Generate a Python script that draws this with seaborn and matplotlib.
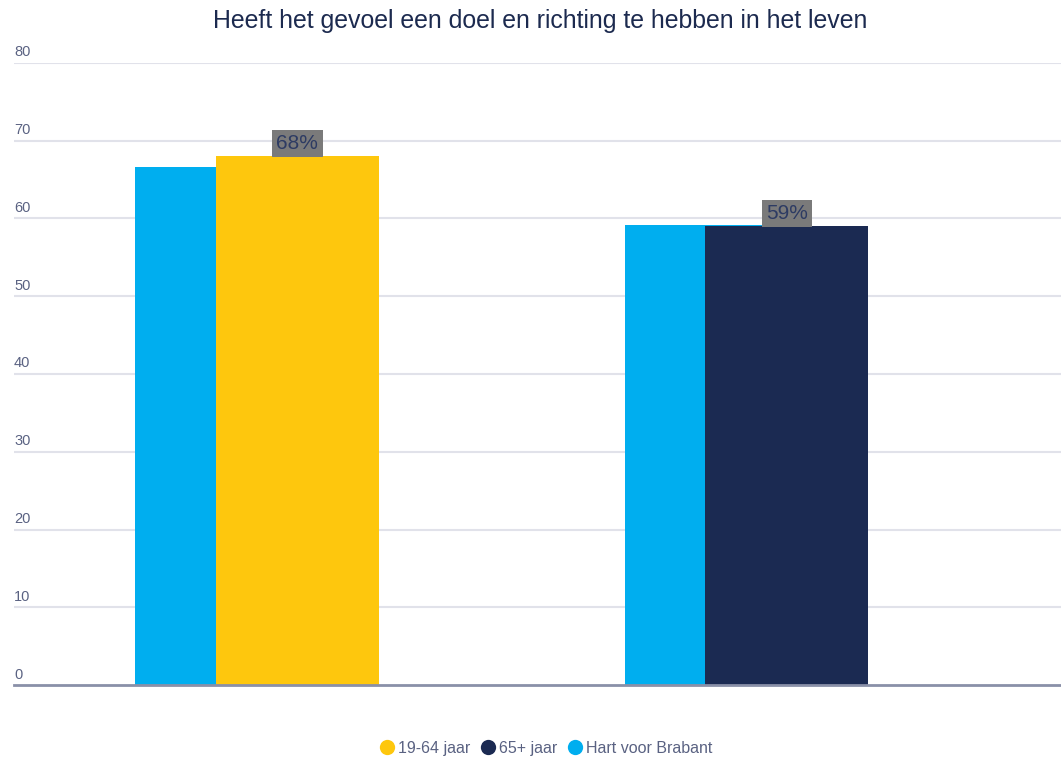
import numpy as np
import pandas as pd
import matplotlib
matplotlib.use('Agg')
import matplotlib.pyplot as plt
from matplotlib.lines import Line2D
import seaborn as sns

# Data
groups = ['19-64 jaar', '65+ jaar']
group_values = [68, 59]
regio_label = 'Hart voor Brabant'
regio_values = [66.6, 59.1]
y_ticks = [0, 10, 20, 30, 40, 50, 60, 70, 80]
title = 'Heeft het gevoel een doel en richting te hebben in het leven'

colors = {'19-64 jaar': '#FEC70D', '65+ jaar': '#1B2A52', regio_label: '#00AEEF'}
text_color = '#5A6282'
title_color = '#1C2A4F'

sns.set_theme(style='white')
plt.rcParams['font.family'] = ['Liberation Sans', 'DejaVu Sans']

fig = plt.figure(figsize=(10.61, 7.58), dpi=100)
ax = fig.add_axes([0.0132, 0.0963, 0.9868, 0.8206])

bar_w = 0.333
offset = 0.165
pos = np.arange(len(groups), dtype=float)

df_regio = pd.DataFrame({'x': pos, 'waarde': regio_values, 'reeks': regio_label})
df_groep = pd.DataFrame({'x': pos + offset, 'waarde': group_values, 'reeks': groups})

sns.barplot(data=df_regio, x='x', y='waarde', hue='reeks', palette=colors,
            native_scale=True, width=bar_w, dodge=False, ax=ax, legend=False,
            saturation=1, linewidth=0, zorder=2)
sns.barplot(data=df_groep, x='x', y='waarde', hue='reeks', palette=colors,
            native_scale=True, width=bar_w, dodge=False, ax=ax, legend=False,
            saturation=1, linewidth=0, zorder=3)

for xv, val in zip(pos + offset, group_values):
    ax.annotate(f'{val}%', xy=(xv, val), xytext=(0, 2.5), textcoords='offset points',
                ha='center', va='bottom', fontsize=15, color='#2D3B63', zorder=5,
                bbox=dict(boxstyle='square,pad=0.2', facecolor='#7A7A7A',
                          edgecolor='none'))

ax.set_xlim(-0.414, 1.725)
ax.set_ylim(0, 80)
ax.set_yticks(y_ticks)
ax.set_yticklabels([])
ax.set_xticks([])
ax.tick_params(length=0)
ax.set_xlabel('')
ax.set_ylabel('')
for t in y_ticks:
    if t > 0:
        ax.axhline(t, color='#E1E2EA', linewidth=1.5, zorder=1)
    ax.text(0.0, t + 0.45, str(t), transform=ax.get_yaxis_transform(),
            ha='left', va='bottom', fontsize=10.5, color=text_color)
for s in ['top', 'right', 'left']:
    ax.spines[s].set_visible(False)
ax.spines['bottom'].set_color('#8A90A8')
ax.spines['bottom'].set_linewidth(2)
ax.spines['bottom'].set_zorder(4)

fig.text(0.509, 0.972, title, ha='center', va='center', fontsize=17.9, color=title_color)

handles = [Line2D([], [], marker='o', linestyle='', markersize=11,
                  markerfacecolor=colors[k], markeredgecolor='none')
           for k in groups + [regio_label]]
fig.legend(handles, groups + [regio_label], loc='center', bbox_to_anchor=(0.514, 0.013),
           ncol=3, frameon=False, fontsize=11.5, handletextpad=0.2,
           columnspacing=0.6, labelcolor=text_color, handlelength=1.0)

fig.savefig('out.png', dpi=100)
